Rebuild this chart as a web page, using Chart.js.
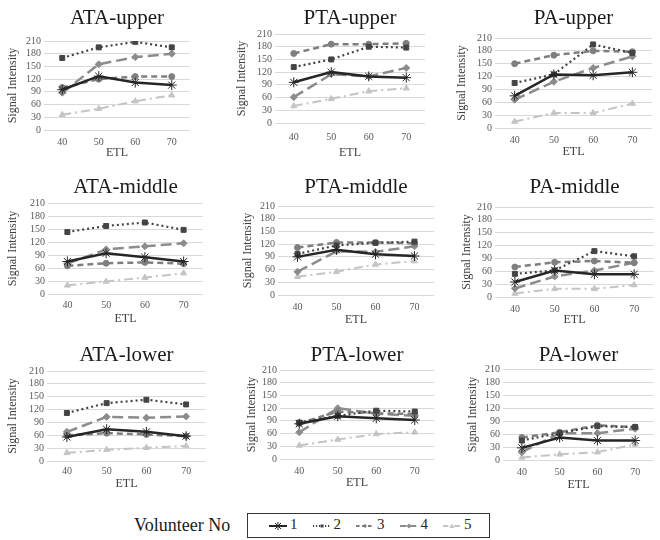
<!DOCTYPE html>
<html>
<head>
<meta charset="utf-8">
<script src="https://cdn.jsdelivr.net/npm/chart.js@4.4.0/dist/chart.umd.min.js"></script>
<style>
  body { margin: 0; background: #fff; }
  #wrap { position: relative; width: 660px; height: 540px; overflow: hidden; }
  .cell { position: absolute; width: 220px; height: 165px; }
  #volLabel { position: absolute; left: 134px; top: 515px; font: 18px 'Liberation Serif', serif; color: #1a1a1a; white-space: nowrap; }
  #legendBox { position: absolute; left: 247px; top: 513px; width: 241px; height: 23px; border: 1.5px solid #333; }
  .item { position: absolute; top: 2px; height: 18px; font: 15px 'Liberation Serif', serif; color: #262626; white-space: nowrap; }
  .item svg { vertical-align: middle; margin-right: 3px; }
</style>
</head>
<body>
<div id="wrap">
  <div id="volLabel">Volunteer No</div>
  <div id="legendBox"></div>
</div>
<script>
const etl = ['40', '50', '60', '70'];
const volunteers = ['1', '2', '3', '4', '5'];

// each panel: one row per volunteer 1..5, values at ETL 40/50/60/70
const ataUpper = [
  [95, 127, 112, 106],
  [170, 195, 208, 195],
  [100, 120, 126, 126],
  [88, 155, 172, 180],
  [36, 50, 68, 82]
];
const ptaUpper = [
  [96, 120, 110, 107],
  [132, 150, 180, 178],
  [164, 186, 186, 188],
  [61, 115, 110, 130],
  [40, 57, 75, 82]
];
const paUpper = [
  [75, 125, 123, 130],
  [105, 125, 195, 175],
  [150, 170, 180, 178],
  [66, 108, 140, 167],
  [15, 35, 35, 57]
];
const ataMiddle = [
  [75, 94, 85, 75],
  [143, 157, 165, 148],
  [65, 71, 73, 70],
  [70, 103, 110, 117],
  [20, 29, 38, 48]
];
const ptaMiddle = [
  [90, 107, 96, 92],
  [97, 117, 123, 126],
  [112, 124, 124, 122],
  [55, 103, 102, 115],
  [43, 55, 72, 80]
];
const paMiddle = [
  [35, 62, 53, 53],
  [54, 62, 107, 95],
  [70, 81, 84, 80],
  [20, 48, 62, 80],
  [8, 19, 19, 28]
];
const ataLower = [
  [56, 74, 68, 58],
  [112, 135, 143, 132],
  [60, 65, 62, 58],
  [68, 103, 101, 104],
  [19, 26, 31, 35]
];
const ptaLower = [
  [83, 101, 96, 92],
  [86, 102, 114, 112],
  [84, 112, 108, 106],
  [63, 120, 107, 102],
  [32, 46, 59, 63]
];
const paLower = [
  [28, 52, 45, 45],
  [45, 62, 78, 76],
  [52, 64, 80, 76],
  [18, 62, 62, 72],
  [6, 13, 18, 36]
];

Chart.defaults.font.family = "'Liberation Serif', 'Times New Roman', serif";

const seriesStyle = [
  { color: '#262626', dash: [], width: 2.5, point: 'star', radius: 5 },
  { color: '#444444', dash: [2, 3], width: 2.2, point: 'rect', radius: 3.5 },
  { color: '#7f7f7f', dash: [6, 4], width: 2.5, point: 'circle', radius: 3 },
  { color: '#8c8c8c', dash: [11, 5], width: 2.5, point: 'rectRot', radius: 3.5 },
  { color: '#c4c4c4', dash: [9, 4, 2, 4], width: 2, point: 'triangle', radius: 3.5 }
];

// where each panel sits (canvas coords inside its 220x165 cell)
const panels = [
  { title: 'ATA-upper',  data: ataUpper,  col: 0, row: 0, L: 44, R: 190, T: 41, B: 130, ty: 18, yx: 13, xt: 142, ex: 153 },
  { title: 'PTA-upper',  data: ptaUpper,  col: 1, row: 0, L: 55, R: 205, T: 34, B: 123, ty: 18, yx: 22, xt: 137, ex: 153 },
  { title: 'PA-upper',   data: paUpper,   col: 2, row: 0, L: 55, R: 212, T: 38, B: 128, ty: 18, yx: 22, xt: 140, ex: 152 },
  { title: 'ATA-middle', data: ataMiddle, col: 0, row: 1, L: 48, R: 203, T: 38, B: 129, ty: 22, yx: 13, xt: 140, ex: 154 },
  { title: 'PTA-middle', data: ptaMiddle, col: 1, row: 1, L: 58, R: 216, T: 41, B: 130, ty: 22, yx: 28, xt: 142, ex: 155 },
  { title: 'PA-middle',  data: paMiddle,  col: 2, row: 1, L: 55, R: 214, T: 42, B: 132, ty: 22, yx: 27, xt: 144, ex: 155 },
  { title: 'ATA-lower',  data: ataLower,  col: 0, row: 2, L: 47, R: 206, T: 41, B: 131, ty: 25, yx: 13, xt: 141, ex: 154 },
  { title: 'PTA-lower',  data: ptaLower,  col: 1, row: 2, L: 60, R: 216, T: 40, B: 129, ty: 25, yx: 32, xt: 141, ex: 153 },
  { title: 'PA-lower',   data: paLower,   col: 2, row: 2, L: 63, R: 219, T: 39, B: 130, ty: 25, yx: 33, xt: 142, ex: 155 }
];

const wrap = document.getElementById('wrap');

function buildPanel(p) {
  const cell = document.createElement('div');
  cell.className = 'cell';
  cell.style.left = (p.col * 220) + 'px';
  cell.style.top = (p.row * 165) + 'px';
  const cv = document.createElement('canvas');
  cv.width = 220;
  cv.height = 165;
  cell.appendChild(cv);
  wrap.appendChild(cell);

  const padLeft = p.yx - 7.2;

  new Chart(cv, {
    type: 'line',
    data: {
      labels: etl,
      datasets: p.data.map((vals, i) => {
        const s = seriesStyle[i];
        return {
          label: volunteers[i],
          data: vals,
          borderColor: s.color,
          backgroundColor: s.color,
          borderWidth: s.width,
          borderDash: s.dash,
          pointStyle: s.point,
          pointRadius: s.radius,
          pointBorderColor: s.color,
          pointBackgroundColor: s.color,
          pointBorderWidth: 1,
          tension: 0,
          fill: false
        };
      })
    },
    options: {
      responsive: false,
      animation: false,
      devicePixelRatio: 1,
      layout: { padding: { left: padLeft, right: 220 - p.R, top: 0, bottom: 0 } },
      plugins: {
        legend: { display: false },
        tooltip: { enabled: false },
        title: {
          display: true,
          text: p.title,
          fullSize: false,
          color: '#1a1a1a',
          font: { size: 21, weight: 'normal', lineHeight: 1.2 },
          padding: { top: p.ty - 12.6, bottom: p.T - p.ty - 12.6 }
        }
      },
      scales: {
        x: {
          offset: true,
          grid: { display: false, drawTicks: false },
          border: { display: false },
          ticks: { padding: p.xt - p.B - 6, color: '#595959', font: { size: 10, lineHeight: 1.2 } },
          title: {
            display: true,
            text: 'ETL',
            color: '#404040',
            font: { size: 12, lineHeight: 1.2 },
            padding: { top: 0, bottom: 165 - p.ex - 7.2 }
          },
          afterFit: scale => { scale.height = 165 - p.B; }
        },
        y: {
          min: 0,
          max: 210,
          grid: { color: '#d9d9d9', drawTicks: false },
          border: { display: false },
          ticks: { stepSize: 30, autoSkip: false, padding: 3, color: '#595959', font: { size: 10, lineHeight: 1.2 } },
          title: {
            display: true,
            text: 'Signal Intensity',
            color: '#404040',
            font: { size: 12, lineHeight: 1.2 },
            padding: 0
          },
          afterFit: scale => { scale.width = p.L - padLeft; }
        }
      }
    }
  });
}

panels.forEach(buildPanel);

// legend row under the grid
const legendBox = document.getElementById('legendBox');
function markerSvg(s) {
  const c = s.color;
  let m = '';
  if (s.point === 'star') {
    m = `<path d="M9 2 V10 M5 6 H13 M6 3 L12 9 M12 3 L6 9" stroke="${c}" stroke-width="1"/>`;
  } else if (s.point === 'rect') {
    m = `<rect x="7.5" y="4.5" width="3" height="3" fill="${c}"/>`;
  } else if (s.point === 'circle') {
    m = `<circle cx="9" cy="6" r="1.7" fill="${c}"/>`;
  } else if (s.point === 'rectRot') {
    m = `<path d="M9 3.5 L11.5 6 L9 8.5 L6.5 6 Z" fill="${c}"/>`;
  } else {
    m = `<path d="M9 3.5 L11.5 8 L6.5 8 Z" fill="${c}"/>`;
  }
  const dash = s.dash.length ? `stroke-dasharray="${s.dash.map(d => d * 0.6).join(' ')}"` : '';
  return `<svg width="18" height="12" viewBox="0 0 18 12"><line x1="0" y1="6" x2="18" y2="6" stroke="${c}" stroke-width="${Math.min(s.width, 2)}" ${dash}/>${m}</svg>`;
}
volunteers.forEach((v, i) => {
  const item = document.createElement('div');
  item.className = 'item';
  item.style.left = (21 + i * 43.5) + 'px';
  item.innerHTML = markerSvg(seriesStyle[i]) + '<span>' + v + '</span>';
  legendBox.appendChild(item);
});
</script>
</body>
</html>
